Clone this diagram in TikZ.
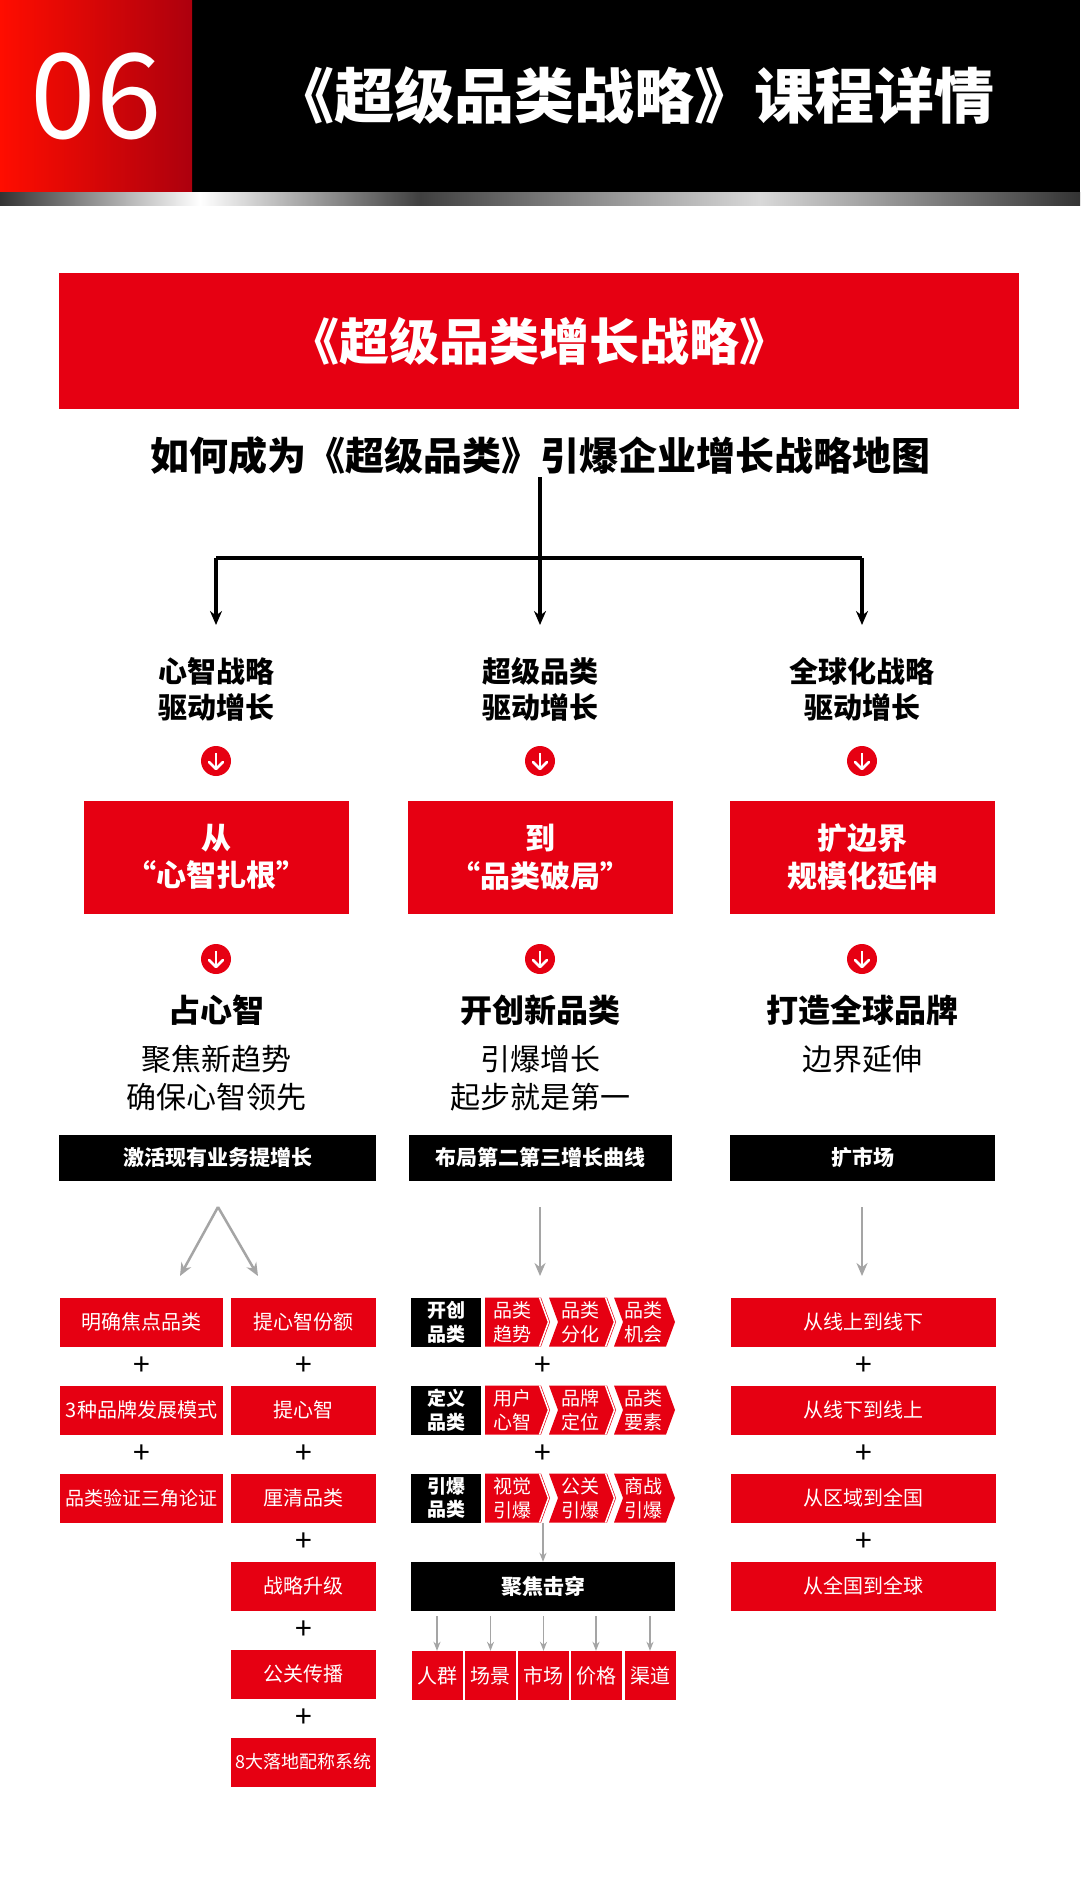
\documentclass[tikz,border=0pt]{standalone}
\usepackage{fontspec}
\setmainfont{Noto Sans CJK SC}
\newcommand{\cjkb}{\bfseries}
\usetikzlibrary{arrows.meta}
\definecolor{rd}{HTML}{E60012}
\definecolor{gy}{HTML}{A5A5A5}
\newcommand{\fs}[1]{\fontsize{#1}{\dimexpr #1pt*5/4\relax}\selectfont}
\newcommand{\ricon}[3]{\node[circle,fill=rd,minimum size=30pt,inner sep=0] (#1) at (#2,#3) {};
 \draw[white,line width=2.6pt] (#2,#3-8)--(#2,#3+7);
 \draw[white,line width=2.6pt,line cap=round,line join=round] (#2-7,#3+1)--(#2,#3+8)--(#2+7,#3+1);}
\tikzset{
 rbox/.style={fill=rd,text=white,inner sep=0,align=center},
 bbox/.style={fill=black,text=white,inner sep=0,align=center},
 small/.style={rbox,minimum height=49pt,font=\fs{20}},
 plus/.style={font=\fs{30},inner sep=0},
 garr/.style={gy,line width=2.5pt,-{Stealth[length=13pt,width=11pt]}},
 tarr/.style={gy,line width=1.5pt,-{Stealth[length=9pt,width=7pt]}},
 karr/.style={black,line width=3.5pt,-{Stealth[length=14pt,width=12pt]}},
 chev/.style={fill=rd},
 ctext/.style={text=white,font=\fs{19},align=center,inner sep=0}
}
\begin{document}
\begin{tikzpicture}[x=1pt,y=-1pt]
\useasboundingbox (0,0) rectangle (1080,1903);
\fill[white] (0,0) rectangle (1080,1903);
% header
\fill[black] (0,0) rectangle (1080,192);
\shade[left color=red!90!orange, right color=rd!75!black] (0,0) rectangle (192,192);
\shade[left color=black!80, right color=white] (0,192) rectangle (200,205);
\shade[left color=white, right color=black!75] (200,192) rectangle (420,205);
\shade[left color=black!75, right color=white!85!black] (420,192) rectangle (760,205);
\shade[left color=white!85!black, right color=black!80] (760,192) rectangle (1080,205);
\node[text=white,font=\fs{118}] (num) at (96,96) {06};
\node[text=white,font=\cjkb\fs{60}] (title) at (634,96) {《超级品类战略》课程详情};
% banner
\node[rbox,minimum width=960pt,minimum height=136pt,font=\cjkb\fs{50}] (banner) at (539,341) {《超级品类增长战略》};
\node[font=\cjkb\fs{39}] (sub) at (540,456) {如何成为《超级品类》引爆企业增长战略地图};
% tree
\coordinate (top) at (540,477);
\coordinate (j1) at (216,558);
\coordinate (j3) at (862,558);
\coordinate (jm) at (540,558);
\coordinate (e1) at (216,625);
\coordinate (e2) at (540,625);
\coordinate (e3) at (862,625);
\draw[black,line width=3.5pt] (top)--(jm);
\draw[black,line width=3.5pt] (j1)--(j3);
\draw[karr] (j1)--(e1);
\draw[karr] (jm)--(e2);
\draw[karr] (j3)--(e3);
\node[font=\cjkb\fs{29},align=center] (l1) at (216,689) {心智战略\\驱动增长};
\node[font=\cjkb\fs{29},align=center] (l2) at (540,689) {超级品类\\驱动增长};
\node[font=\cjkb\fs{29},align=center] (l3) at (862,689) {全球化战略\\驱动增长};
\ricon{i1}{216}{761} \ricon{i2}{540}{761} \ricon{i3}{862}{761}
\node[rbox,minimum width=265pt,minimum height=113pt,font=\cjkb\fs{30}] (r1) at (216,857) {从\\“心智扎根”};
\node[rbox,minimum width=265pt,minimum height=113pt,font=\cjkb\fs{30}] (r2) at (540,857) {到\\“品类破局”};
\node[rbox,minimum width=265pt,minimum height=113pt,font=\cjkb\fs{30}] (r3) at (862,857) {扩边界\\规模化延伸};
\ricon{k1}{216}{959} \ricon{k2}{540}{959} \ricon{k3}{862}{959}
\node[font=\cjkb\fs{32}] (h1) at (216,1010) {占心智};
\node[font=\cjkb\fs{32}] (h2) at (540,1010) {开创新品类};
\node[font=\cjkb\fs{32}] (h3) at (862,1010) {打造全球品牌};
\node[font=\fs{30},align=center,anchor=north] (d1) at (216,1042) {聚焦新趋势\\确保心智领先};
\node[font=\fs{30},align=center,anchor=north] (d2) at (540,1042) {引爆增长\\起步就是第一};
\node[font=\fs{30},align=center,anchor=north] (d3) at (862,1042) {边界延伸};
\node[bbox,minimum width=317pt,minimum height=46pt,font=\cjkb\fs{21}] (b1) at (217.5,1157.5) {激活现有业务提增长};
\node[bbox,minimum width=263pt,minimum height=46pt,font=\cjkb\fs{21}] (b2) at (540,1157.5) {布局第二第三增长曲线};
\node[bbox,minimum width=265pt,minimum height=46pt,font=\cjkb\fs{21}] (b3) at (862.5,1157.5) {扩市场};
% gray arrows
\coordinate (ap1) at (218,1207);
\coordinate (ae1) at (180,1276);
\coordinate (ae2) at (258,1276);
\coordinate (ap2) at (540,1207);
\coordinate (ae3) at (540,1276);
\coordinate (ap3) at (862,1207);
\coordinate (ae4) at (862,1276);
\draw[garr] (ap1)--(ae1);
\draw[garr] (ap1)--(ae2);
\draw[garr] (ap2)--(ae3);
\draw[garr] (ap3)--(ae4);
% left column
\node[small,minimum width=163pt] (a1) at (141.5,1322) {明确焦点品类};
\node[small,minimum width=163pt] (a2) at (141.5,1410) {3种品牌发展模式};
\node[small,minimum width=163pt,font=\fs{19}] (a3) at (141.5,1498) {品类验证三角论证};
\node[plus] (pa1) at (141.5,1366) {+};
\node[plus] (pa2) at (141.5,1454) {+};
\node[small,minimum width=145pt] (c1) at (303.5,1322) {提心智份额};
\node[small,minimum width=145pt] (c2) at (303.5,1410) {提心智};
\node[small,minimum width=145pt] (c3) at (303.5,1498) {厘清品类};
\node[small,minimum width=145pt] (c4) at (303.5,1586) {战略升级};
\node[small,minimum width=145pt] (c5) at (303.5,1674) {公关传播};
\node[small,minimum width=145pt,font=\fs{18}] (c6) at (303.5,1762) {8大落地配称系统};
\foreach \y/\n in {1366/1,1454/2,1542/3,1630/4,1718/5} \node[plus] (pc\n) at (303.5,\y) {+};
% middle column
\foreach \y/\lab/\ta/\tb/\tc/\n in {1322/{开创\\品类}/{品类\\趋势}/{品类\\分化}/{品类\\机会}/1, 1410/{定义\\品类}/{用户\\心智}/{品牌\\定位}/{品类\\要素}/2, 1498/{引爆\\品类}/{视觉\\引爆}/{公关\\引爆}/{商战\\引爆}/3}{
 \node[bbox,minimum width=70pt,minimum height=49pt,font=\cjkb\fs{19}] (m\n) at (446,\y) {\lab};
 \fill[chev] (485,\y-24.5)--(541,\y-24.5)--(550,\y)--(541,\y+24.5)--(485,\y+24.5)--cycle;
 \fill[chev] (549,\y-24.5)--(607,\y-24.5)--(616,\y)--(607,\y+24.5)--(549,\y+24.5)--(558,\y)--cycle;
 \fill[chev] (614,\y-24.5)--(666,\y-24.5)--(675,\y)--(666,\y+24.5)--(614,\y+24.5)--(623,\y)--cycle;
 \draw[white,line width=1.5pt] (539.5,\y-24.5)--(548.5,\y)--(539.5,\y+24.5);
 \draw[white,line width=1.5pt] (605.5,\y-24.5)--(614.5,\y)--(605.5,\y+24.5);
 \node[ctext] (ma\n) at (512,\y) {\ta};
 \node[ctext] (mb\n) at (580,\y) {\tb};
 \node[ctext] (mc\n) at (643,\y) {\tc};
}
\node[plus] (pm1) at (543,1366) {+};
\node[plus] (pm2) at (543,1454) {+};
\node[bbox,minimum width=264pt,minimum height=49pt,font=\cjkb\fs{21}] (focus) at (543,1586.5) {聚焦击穿};
\coordinate (fs) at (543,1522.5);
\draw[tarr] (fs)--(focus.north);
\foreach \x/\t/\n in {437/人群/1,490.5/场景/2,543.5/市场/3,596/价格/4,650/渠道/5}{
 \node[rbox,minimum width=51pt,minimum height=49pt,font=\fs{20}] (f\n) at (\x,1675.5) {\t};
 \coordinate (fa\n) at (\x,1616);
 \draw[tarr] (fa\n)--(f\n.north);
}
% right column
\foreach \y/\t/\n in {1322/从线上到线下/1,1410/从线下到线上/2,1498/从区域到全国/3,1586/从全国到全球/4}
 \node[small,minimum width=265pt] (g\n) at (863.5,\y) {\t};
\foreach \y/\n in {1366/1,1454/2,1542/3} \node[plus] (pg\n) at (863.5,\y) {+};
\end{tikzpicture}
\end{document}
